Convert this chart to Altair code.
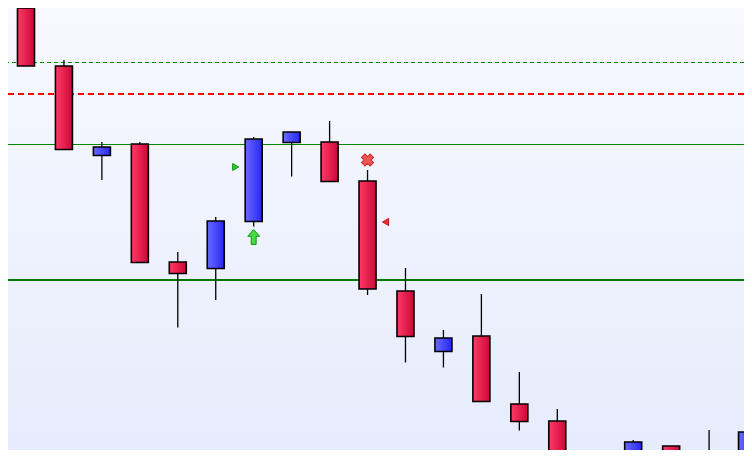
import pandas as pd
import altair as alt

# OHLC per bar (bar index 0..19)
opens = [1.0992, 1.0934, 1.08445, 1.0856, 1.0738, 1.07315, 1.07785, 1.08575, 1.0858, 1.0819,
         1.0709, 1.06485, 1.0664, 1.0596, 1.0579, 1.0495, 1.0530, 1.0554, 1.0538, 1.0530]
highs = [1.0994, 1.0940, 1.0858, 1.0858, 1.0748, 1.0783, 1.0863, 1.0868, 1.0879, 1.0830,
         1.0732, 1.0670, 1.0706, 1.0628, 1.0591, 1.0525, 1.0560, 1.0554, 1.0570, 1.0575]
lows = [1.0934, 1.08505, 1.0820, 1.07375, 1.06725, 1.0700, 1.07735, 1.08235, 1.08185, 1.0705,
        1.06375, 1.06325, 1.05985, 1.05695, 1.0520, 1.0485, 1.0515, 1.0520, 1.0500, 1.0520]
closes = [1.0934, 1.08505, 1.0853, 1.07375, 1.07265, 1.0779, 1.0861, 1.0868, 1.08185, 1.0711,
          1.06635, 1.0662, 1.05985, 1.05785, 1.0530, 1.0520, 1.0558, 1.0525, 1.0510, 1.0568]

# horizontal levels
level_prices = [1.09375, 1.0906, 1.08555, 1.0720]
level_kinds = ["target", "stop", "resistance", "support"]

# trade signals: bar index, price, kind
signal_bars = [6, 6, 9, 9]
signal_prices = [1.0833, 1.0763, 1.0840, 1.0778]
signal_kinds = ["entry", "buy", "exit", "close"]

candles = pd.DataFrame({
    "bar": list(range(len(opens))),
    "open": opens, "high": highs, "low": lows, "close": closes,
})
levels = pd.DataFrame({"price": level_prices, "kind": level_kinds})
signals = pd.DataFrame({"bar": signal_bars, "price": signal_prices, "kind": signal_kinds})

W, H = 736, 442
xscale = alt.Scale(domain=[-0.474, 18.92], nice=False, zero=False, padding=0)
yscale = alt.Scale(domain=[1.0550, 1.0992], nice=False, zero=False, padding=0)


def hgrad(left, right):
    return alt.LinearGradient(
        gradient="linear", x1=0, x2=1, y1=0, y2=0,
        stops=[alt.GradientStop(color=left, offset=0),
               alt.GradientStop(color=right, offset=1)],
    )


bg = alt.Chart(pd.DataFrame({"a": [0]})).mark_rect(
    color=alt.LinearGradient(
        gradient="linear", x1=0, x2=0, y1=0, y2=1,
        stops=[alt.GradientStop(color="#f7f9fe", offset=0),
               alt.GradientStop(color="#e6ecfc", offset=1)],
    )
).encode(x=alt.value(0), x2=alt.value(W), y=alt.value(0), y2=alt.value(H))

level_style = {
    "target": dict(color="#008800", strokeWidth=1, strokeDash=[4, 3]),
    "stop": dict(color="#ff0000", strokeWidth=2, strokeDash=[6, 4]),
    "resistance": dict(color="#008800", strokeWidth=1),
    "support": dict(color="#007c00", strokeWidth=2),
}
rules = [
    alt.Chart(levels).transform_filter(alt.datum.kind == k)
    .mark_rule(**s)
    .encode(y=alt.Y("price:Q", scale=yscale, axis=None))
    for k, s in level_style.items()
]

x_enc = alt.X("bar:Q", scale=xscale, axis=None)

wicks = alt.Chart(candles).mark_rule(color="black", strokeWidth=1.3, clip=True).encode(
    x=x_enc,
    y=alt.Y("low:Q", scale=yscale, axis=None),
    y2="high:Q",
)

down = alt.Chart(candles).transform_filter("datum.close < datum.open").mark_bar(
    size=17, color=hgrad("#ff3a66", "#cc0838"), stroke="black", strokeWidth=1.6, clip=True
).encode(x=x_enc, y=alt.Y("open:Q", scale=yscale, axis=None), y2="close:Q")

up = alt.Chart(candles).transform_filter("datum.close >= datum.open").mark_bar(
    size=17, color=hgrad("#6a6aff", "#2626f4"), stroke="black", strokeWidth=1.6, clip=True
).encode(x=x_enc, y=alt.Y("open:Q", scale=yscale, axis=None), y2="close:Q")

arrow_up = "M0,-1L0.8,-0.1L0.33,-0.1L0.33,1L-0.33,1L-0.33,-0.1L-0.8,-0.1Z"
signal_style = {
    "entry": (dict(shape="triangle-right", size=50, fill="#2ec42e", stroke="#149a14"), -18),
    "buy": (dict(shape=arrow_up, size=220, fill="#44dd44", stroke="#139313"), 0),
    "exit": (dict(shape="cross", angle=45, size=150, fill="#ee5555", stroke="#cc2a2a"), 0),
    "close": (dict(shape="triangle-left", size=50, fill="#ee3333", stroke="#b01818"), 18),
}
marks = [
    alt.Chart(signals).transform_filter(alt.datum.kind == k)
    .mark_point(filled=True, opacity=1, strokeWidth=1, **s)
    .encode(x=x_enc, y=alt.Y("price:Q", scale=yscale, axis=None), xOffset=alt.value(off))
    for k, (s, off) in signal_style.items()
]

chart = alt.layer(bg, *rules, wicks, down, up, *marks).properties(
    width=W, height=H, padding=0, autosize="none"
).configure_view(strokeWidth=0)

chart.save("out.html", embed_options={"renderer": "svg", "actions": False})
